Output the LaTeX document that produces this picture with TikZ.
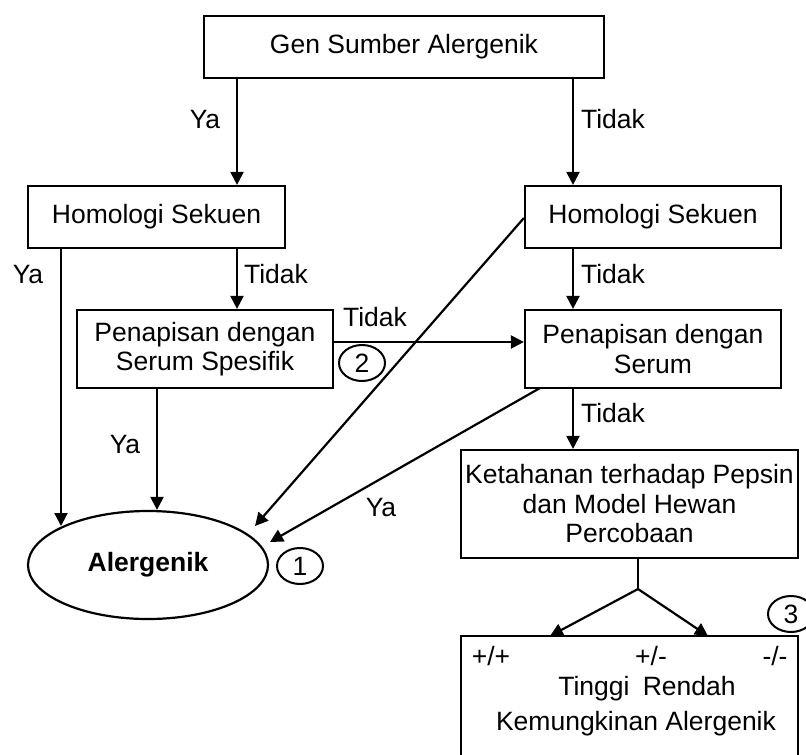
\documentclass[tikz,border=0pt]{standalone}
\usepackage{fontspec}
\setmainfont{Liberation Sans}
\usetikzlibrary{arrows.meta,shapes.geometric}
\begin{document}
\begin{tikzpicture}[x=1pt,y=-1pt,
  every node/.style={font=\fontsize{26.5}{29.5}\selectfont},
  box/.style={draw,line width=2.2pt,rectangle,inner sep=2pt,align=center,minimum width=#1},
  lbl/.style={inner sep=0pt,text height=0.72em,text depth=0pt},
  num/.style={draw,line width=2pt,ellipse,inner sep=0pt,minimum width=46pt,minimum height=36pt},
  arr/.style={line width=2.2pt,-{Triangle[length=13pt,width=13pt]}},
  ln/.style={line width=2.2pt}]
\clip (0,0) rectangle (806,755);
\fill[white] (0,0) rectangle (806,755);
% column coordinates
\coordinate (colA) at (237,0);
\coordinate (colB) at (573,0);
\coordinate (colL) at (61,0);
\coordinate (colM) at (157,0);
\coordinate (rowH) at (0,342);
% nodes
\node[box=400pt,minimum height=62pt] (gen) at (404,47) {Gen Sumber Alergenik};
\node[box=257pt,minimum height=62pt] (homL) at (156.5,217) {Homologi Sekuen};
\node[box=256pt,minimum height=62pt] (homR) at (653,217) {Homologi Sekuen};
\node[box=256pt,minimum height=78pt] (spec) at (205,349) {Penapisan dengan\\Serum Spesifik};
\node[box=256pt,minimum height=78pt] (serum) at (653,349) {Penapisan dengan\\Serum};
\node[box=337pt,minimum height=108pt] (ket) at (629.5,504) {Ketahanan terhadap Pepsin\\dan Model Hewan\\Percobaan};
\node[draw,line width=2.2pt,ellipse,inner sep=0pt,minimum width=240pt,minimum height=108pt,font=\fontsize{26.5}{29.5}\selectfont\bfseries] (alg) at (148,565) {Alergenik};
\node[draw,line width=2.2pt,rectangle,minimum width=337pt,minimum height=134pt,inner sep=0pt] (res) at (629.5,703) {};
\node[num] (n1) at (300,566) {1};
\node[num] (n2) at (362,363) {2};
\node[num] (n3) at (791,614) {3};
% end coordinates
\coordinate (t1) at (255,526);
\coordinate (t2) at (270,542);
\coordinate (s2) at (540,388);
\coordinate (fork) at (638,589);
\coordinate (fL) at (550,636);
\coordinate (fR) at (708,636);
% connectors
\draw[arr] (gen.south -| colA) -- (homL.north -| colA);
\draw[arr] (gen.south -| colB) -- (homR.north -| colB);
\draw[arr] (homL.south -| colA) -- (spec.north -| colA);
\draw[arr] (homR.south -| colB) -- (serum.north -| colB);
\draw[arr] (serum.south -| colB) -- (ket.north -| colB);
\draw[arr] (homL.south -| colL) -- (61,526);
\draw[arr] (spec.south -| colM) -- (alg.north -| colM);
\draw[arr] (spec.east |- rowH) -- (serum.west |- rowH);
\draw[arr] (homR.west) ++(0,1) -- (t1);
\draw[arr] (s2) -- (t2);
\draw[ln] (ket.south -| fork) -- (fork);
\draw[arr] (fork) -- (fL);
\draw[arr] (fork) -- (fR);
% labels
\node[lbl] (l1) at (205,125) {Ya};
\node[lbl] (l2) at (613,125) {Tidak};
\node[lbl] (l3) at (28,280) {Ya};
\node[lbl] (l4) at (276,280) {Tidak};
\node[lbl] (l5) at (613,280) {Tidak};
\node[lbl] (l6) at (375,323) {Tidak};
\node[lbl] (l7) at (125,450) {Ya};
\node[lbl] (l8) at (613,419) {Tidak};
\node[lbl] (l9) at (381,513) {Ya};
\node[lbl] (p1) at (491,662) {+/+};
\node[lbl] (p2) at (651,662) {+/-};
\node[lbl] (p3) at (775,662) {-/-};
\node[lbl] (tr) at (647,692) {Tinggi\hspace{0.5em}Rendah};
\node[lbl] (ka) at (636,727) {Kemungkinan Alergenik};
\end{tikzpicture}
\end{document}
